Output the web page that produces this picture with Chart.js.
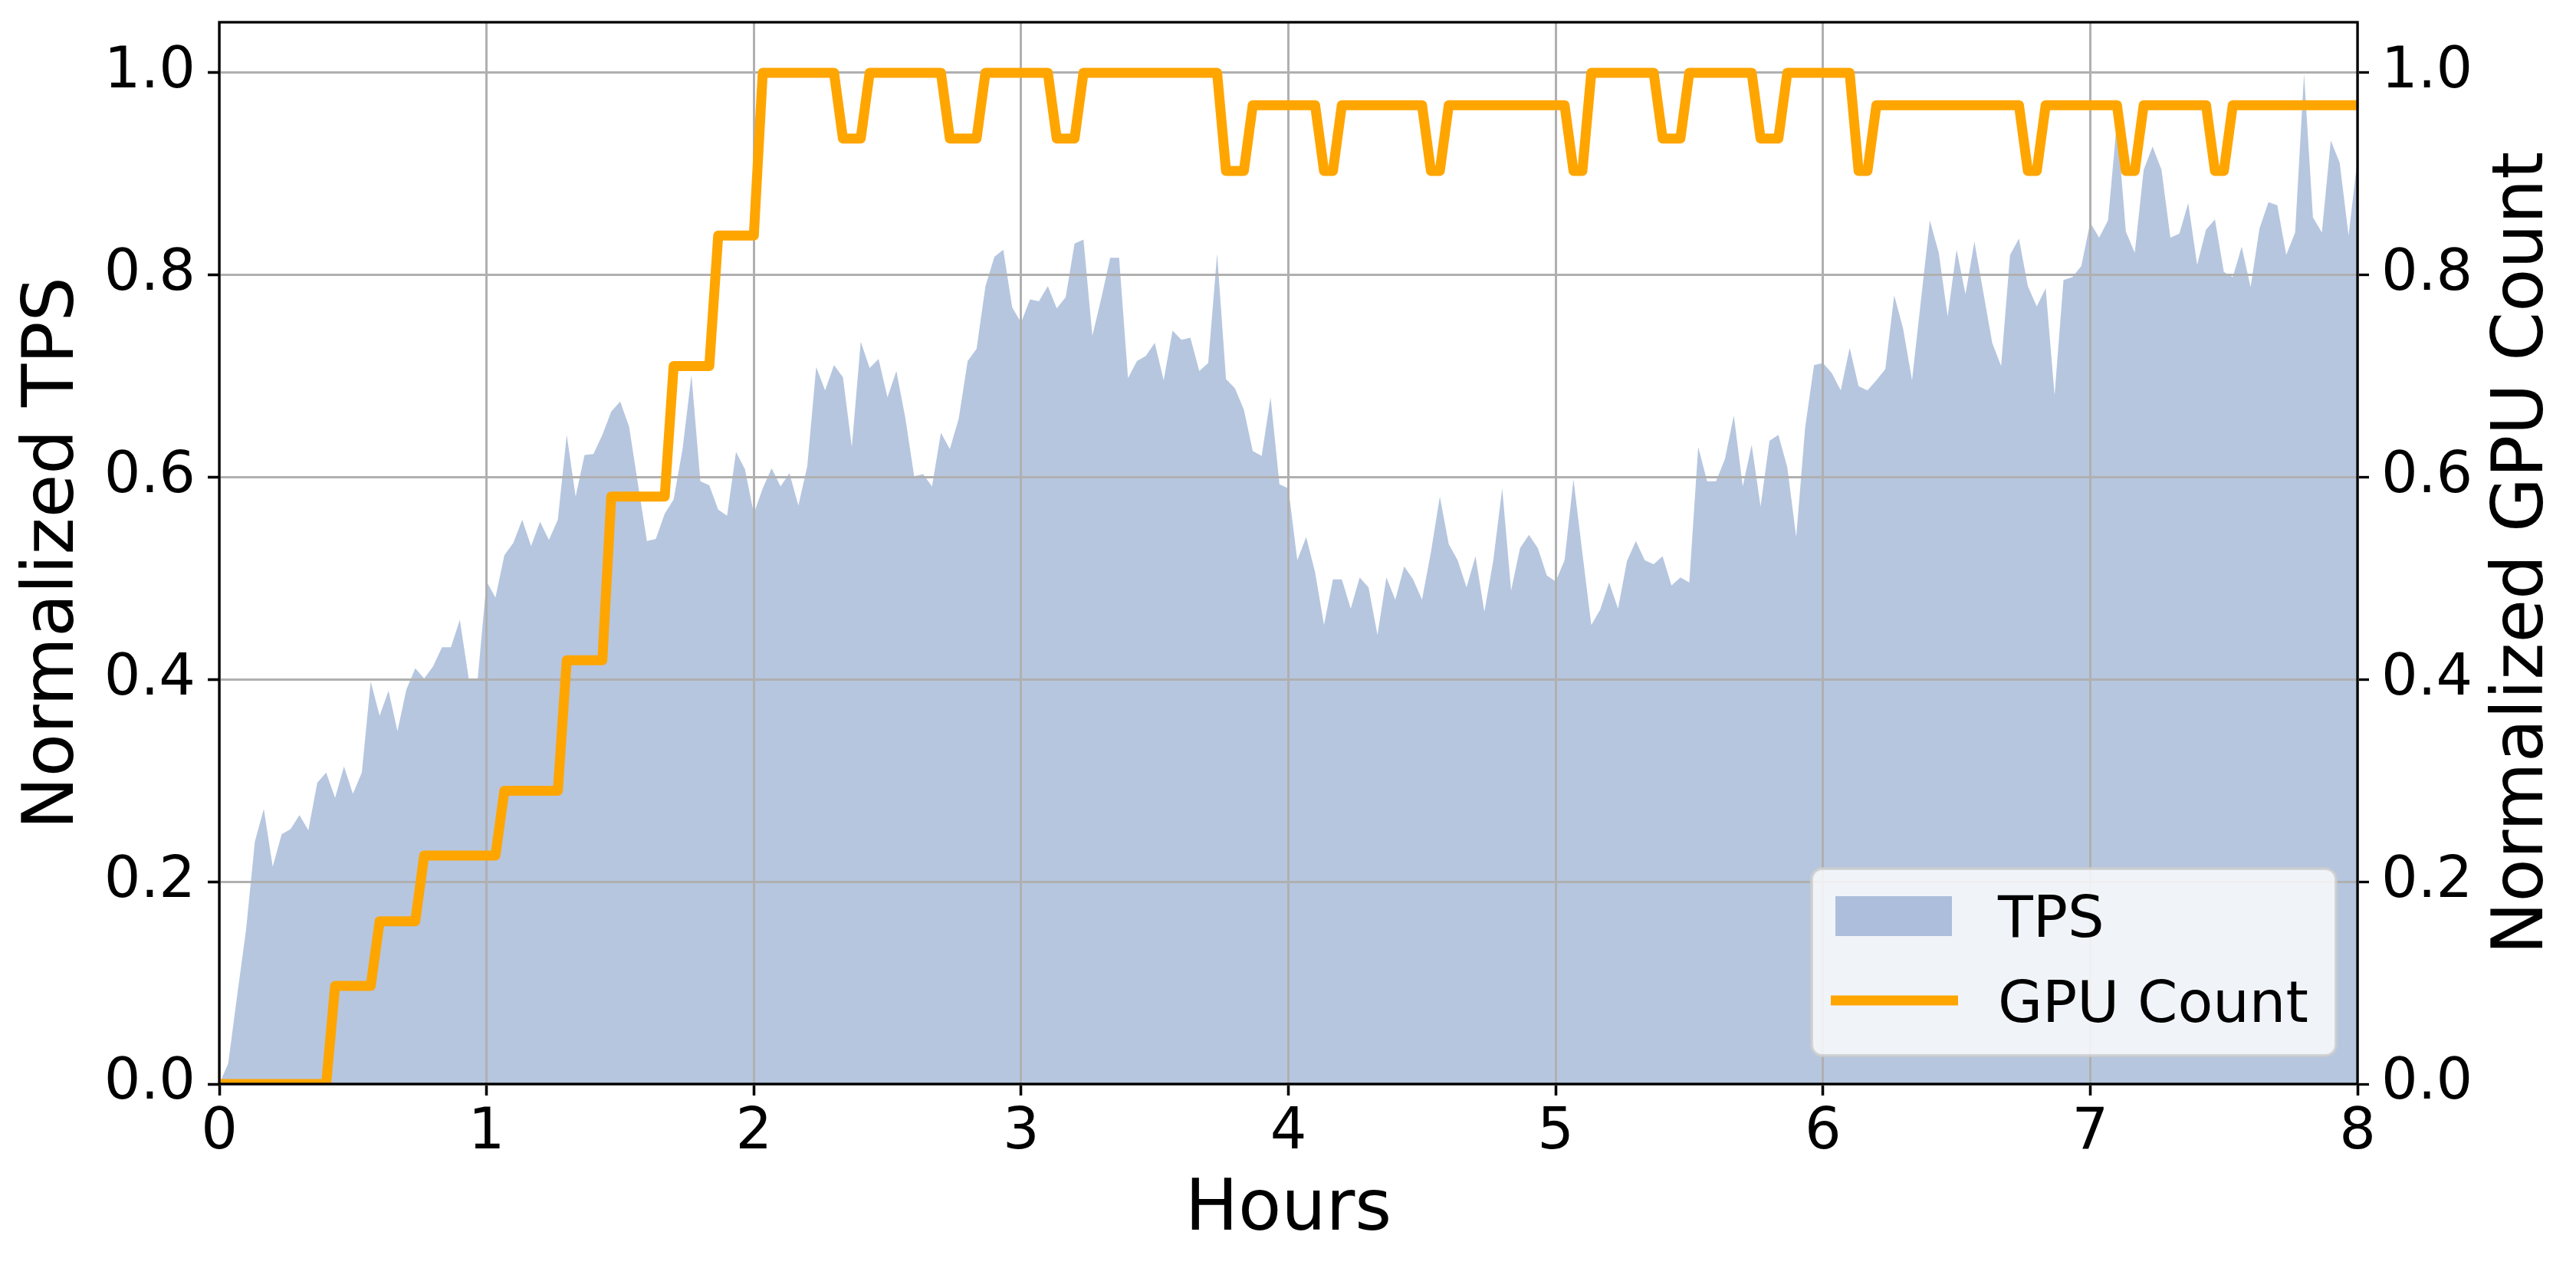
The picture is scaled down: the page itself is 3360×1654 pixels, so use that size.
<!DOCTYPE html>
<html>
<head>
<meta charset="utf-8">
<script src="https://cdn.jsdelivr.net/npm/chart.js@4"></script>
<style>
html, body { margin: 0; padding: 0; background: #ffffff; }
canvas { display: block; }
</style>
</head>
<body>
<canvas id="c" width="3360" height="1654"></canvas>
<script>
// ---- data (one sample every 2 minutes, 0..8 h) ----
const SAMPLES_PER_HOUR = 30;

const TPS = [
  0.000, 0.020, 0.087, 0.152, 0.240, 0.272, 0.215, 0.247, 0.252, 0.266,
  0.251, 0.298, 0.308, 0.283, 0.314, 0.287, 0.308, 0.398, 0.364, 0.389,
  0.349, 0.390, 0.411, 0.401, 0.413, 0.432, 0.432, 0.459, 0.401, 0.400,
  0.497, 0.481, 0.523, 0.535, 0.558, 0.532, 0.556, 0.538, 0.558, 0.642,
  0.581, 0.622, 0.623, 0.642, 0.665, 0.675, 0.650, 0.593, 0.537, 0.539,
  0.564, 0.578, 0.628, 0.701, 0.596, 0.592, 0.568, 0.562, 0.625, 0.608,
  0.564, 0.589, 0.609, 0.591, 0.604, 0.572, 0.611, 0.709, 0.686, 0.711,
  0.699, 0.630, 0.734, 0.708, 0.717, 0.679, 0.705, 0.659, 0.601, 0.603,
  0.591, 0.644, 0.628, 0.658, 0.715, 0.727, 0.789, 0.818, 0.825, 0.768,
  0.753, 0.776, 0.774, 0.789, 0.767, 0.778, 0.831, 0.835, 0.740, 0.777,
  0.817, 0.817, 0.698, 0.715, 0.720, 0.733, 0.696, 0.745, 0.736, 0.738,
  0.705, 0.713, 0.821, 0.697, 0.688, 0.667, 0.626, 0.621, 0.679, 0.593,
  0.589, 0.518, 0.541, 0.506, 0.454, 0.499, 0.499, 0.470, 0.501, 0.491,
  0.444, 0.501, 0.479, 0.512, 0.499, 0.479, 0.526, 0.581, 0.534, 0.518,
  0.491, 0.522, 0.467, 0.518, 0.589, 0.488, 0.530, 0.543, 0.530, 0.503,
  0.497, 0.518, 0.598, 0.525, 0.454, 0.469, 0.496, 0.470, 0.517, 0.537,
  0.518, 0.514, 0.522, 0.493, 0.501, 0.496, 0.630, 0.596, 0.596, 0.618,
  0.661, 0.591, 0.632, 0.571, 0.636, 0.642, 0.610, 0.541, 0.649, 0.711,
  0.713, 0.703, 0.686, 0.728, 0.690, 0.686, 0.696, 0.707, 0.780, 0.747,
  0.696, 0.775, 0.854, 0.822, 0.759, 0.825, 0.781, 0.833, 0.783, 0.733,
  0.710, 0.820, 0.836, 0.789, 0.769, 0.787, 0.681, 0.795, 0.798, 0.809,
  0.852, 0.837, 0.854, 0.952, 0.843, 0.822, 0.904, 0.927, 0.904, 0.837,
  0.841, 0.871, 0.810, 0.845, 0.855, 0.803, 0.798, 0.828, 0.788, 0.846,
  0.872, 0.869, 0.820, 0.842, 0.999, 0.857, 0.842, 0.933, 0.911, 0.839,
  0.915
];

const GPU = [
  0, 0, 0, 0, 0, 0, 0, 0, 0, 0,
  0, 0, 0, 0.097, 0.097, 0.097, 0.097, 0.097, 0.161, 0.161,
  0.161, 0.161, 0.161, 0.226, 0.226, 0.226, 0.226, 0.226, 0.226, 0.226,
  0.226, 0.226, 0.290, 0.290, 0.290, 0.290, 0.290, 0.290, 0.290, 0.419,
  0.419, 0.419, 0.419, 0.419, 0.581, 0.581, 0.581, 0.581, 0.581, 0.581,
  0.581, 0.710, 0.710, 0.710, 0.710, 0.710, 0.839, 0.839, 0.839, 0.839,
  0.839, 1, 1, 1, 1, 1, 1, 1, 1, 1,
  0.935, 0.935, 0.935, 1, 1, 1, 1, 1, 1, 1,
  1, 1, 0.935, 0.935, 0.935, 0.935, 1, 1, 1, 1,
  1, 1, 1, 1, 0.935, 0.935, 0.935, 1, 1, 1,
  1, 1, 1, 1, 1, 1, 1, 1, 1, 1,
  1, 1, 1, 0.903, 0.903, 0.903, 0.968, 0.968, 0.968, 0.968,
  0.968, 0.968, 0.968, 0.968, 0.903, 0.903, 0.968, 0.968, 0.968, 0.968,
  0.968, 0.968, 0.968, 0.968, 0.968, 0.968, 0.903, 0.903, 0.968, 0.968,
  0.968, 0.968, 0.968, 0.968, 0.968, 0.968, 0.968, 0.968, 0.968, 0.968,
  0.968, 0.968, 0.903, 0.903, 1, 1, 1, 1, 1, 1,
  1, 1, 0.935, 0.935, 0.935, 1, 1, 1, 1, 1,
  1, 1, 1, 0.935, 0.935, 0.935, 1, 1, 1, 1,
  1, 1, 1, 1, 0.903, 0.903, 0.968, 0.968, 0.968, 0.968,
  0.968, 0.968, 0.968, 0.968, 0.968, 0.968, 0.968, 0.968, 0.968, 0.968,
  0.968, 0.968, 0.968, 0.903, 0.903, 0.968, 0.968, 0.968, 0.968, 0.968,
  0.968, 0.968, 0.968, 0.968, 0.903, 0.903, 0.968, 0.968, 0.968, 0.968,
  0.968, 0.968, 0.968, 0.968, 0.903, 0.903, 0.968, 0.968, 0.968, 0.968,
  0.968, 0.968, 0.968, 0.968, 0.968, 0.968, 0.968, 0.968, 0.968, 0.968,
  0.968
];

const SERIES_NAMES = ['TPS', 'GPU Count'];
const X_TICKS = [0, 1, 2, 3, 4, 5, 6, 7, 8];
const X_TICK_LABELS = ['0', '1', '2', '3', '4', '5', '6', '7', '8'];
const Y_TICKS = [0, 0.2, 0.4, 0.6, 0.8, 1.0];
const Y_TICK_LABELS = ['0.0', '0.2', '0.4', '0.6', '0.8', '1.0'];
const X_TITLE = 'Hours';
const Y_TITLE = 'Normalized TPS';
const Y2_TITLE = 'Normalized GPU Count';

// ---- build library structures ----
const hours = TPS.map((_, i) => i / SAMPLES_PER_HOUR);
const tpsPoints = TPS.map((v, i) => ({ x: hours[i], y: v }));
const gpuPoints = GPU.map((v, i) => ({ x: hours[i], y: v }));

const FONT = 'DejaVu Sans';
const TPS_FILL = '#b6c6df';
const TPS_LEGEND = '#acbedb';
const ORANGE = '#ffa500';
const GRID = '#b0b0b0';

Chart.defaults.font.family = FONT;
Chart.defaults.color = '#000000';

// grid drawn above the filled area (like matplotlib), below the line
const gridOverFill = {
  id: 'gridOverFill',
  afterDatasetDraw(chart, args) {
    if (args.meta.label !== SERIES_NAMES[0]) return;
    chart.scales.x.drawGrid(chart.chartArea);
    chart.scales.y.drawGrid(chart.chartArea);
  }
};

// axes frame on top of the data
const frame = {
  id: 'frame',
  afterDatasetsDraw(chart) {
    const { ctx, chartArea: a } = chart;
    ctx.save();
    ctx.strokeStyle = '#000000';
    ctx.lineWidth = 3.3;
    ctx.strokeRect(a.left, a.top, a.right - a.left, a.bottom - a.top);
    ctx.restore();
  }
};

// right axis title (reads bottom-to-top) and legend box inside the plot
const extras = {
  id: 'extras',
  afterDraw(chart) {
    const { ctx, chartArea: a } = chart;
    ctx.save();
    ctx.translate(a.right + 241, (a.top + a.bottom) / 2);
    ctx.rotate(-Math.PI / 2);
    ctx.font = '92px "' + FONT + '"';
    ctx.fillStyle = '#000000';
    ctx.textAlign = 'center';
    ctx.textBaseline = 'alphabetic';
    ctx.fillText(Y2_TITLE, 0, 0);
    ctx.restore();

    const bx = a.right - 712, by = a.bottom - 281, bw = 684, bh = 244;
    ctx.save();
    ctx.beginPath();
    ctx.roundRect(bx, by, bw, bh, 14);
    ctx.fillStyle = 'rgba(255,255,255,0.8)';
    ctx.fill();
    ctx.strokeStyle = 'rgba(204,204,204,0.8)';
    ctx.lineWidth = 4;
    ctx.stroke();

    ctx.fillStyle = TPS_LEGEND;
    ctx.fillRect(bx + 31, by + 36, 152, 52);

    ctx.beginPath();
    ctx.strokeStyle = ORANGE;
    ctx.lineWidth = 13;
    ctx.lineCap = 'butt';
    ctx.moveTo(bx + 25, by + 172);
    ctx.lineTo(bx + 191, by + 172);
    ctx.stroke();

    ctx.fillStyle = '#000000';
    ctx.font = '75px "' + FONT + '"';
    ctx.textAlign = 'left';
    ctx.textBaseline = 'alphabetic';
    ctx.fillText(SERIES_NAMES[0], bx + 243, by + 89);
    ctx.fillText(SERIES_NAMES[1], bx + 243, by + 200);
    ctx.restore();
  }
};

const tickGrid = {
  color: GRID,
  lineWidth: 3,
  tickColor: '#000000',
  tickLength: 15,
  tickWidth: 3.3
};

const noEdgePadding = s => {
  s.paddingTop = 0;
  s.paddingBottom = 0;
  s.paddingLeft = 0;
  s.paddingRight = 0;
};

new Chart(document.getElementById('c'), {
  type: 'line',
  data: {
    datasets: [
      {
        label: SERIES_NAMES[0],
        data: tpsPoints,
        yAxisID: 'y',
        fill: 'origin',
        backgroundColor: TPS_FILL,
        borderColor: 'rgba(0,0,0,0)',
        borderWidth: 0,
        pointRadius: 0,
        tension: 0,
        order: 2,
        clip: 0
      },
      {
        label: SERIES_NAMES[1],
        data: gpuPoints,
        yAxisID: 'y2',
        fill: false,
        borderColor: ORANGE,
        borderWidth: 13,
        borderJoinStyle: 'round',
        borderCapStyle: 'butt',
        pointRadius: 0,
        tension: 0,
        order: 1,
        clip: 0
      }
    ]
  },
  options: {
    responsive: false,
    animation: false,
    events: [],
    layout: { padding: { top: 29, left: 0, right: 0, bottom: 0 } },
    plugins: {
      legend: { display: false },
      tooltip: { enabled: false }
    },
    scales: {
      x: {
        type: 'linear',
        min: 0,
        max: 8,
        afterBuildTicks: s => { s.ticks = X_TICKS.map(v => ({ value: v })); },
        afterFit: s => { s.height = 240; noEdgePadding(s); },
        ticks: {
          font: { size: 75 },
          color: '#000000',
          padding: 5,
          maxRotation: 0,
          autoSkip: false,
          callback: (v, i) => X_TICK_LABELS[i]
        },
        grid: tickGrid,
        border: { display: false },
        title: {
          display: true,
          text: X_TITLE,
          color: '#000000',
          font: { size: 92, lineHeight: 1.2 },
          padding: { top: 0, bottom: 19 }
        }
      },
      y: {
        type: 'linear',
        position: 'left',
        min: 0,
        max: 1.05,
        afterBuildTicks: s => { s.ticks = Y_TICKS.map(v => ({ value: v })); },
        afterFit: s => { s.width = 286; noEdgePadding(s); },
        ticks: {
          font: { size: 75 },
          color: '#000000',
          padding: 16,
          callback: (v, i) => Y_TICK_LABELS[i]
        },
        grid: tickGrid,
        border: { display: false },
        title: {
          display: true,
          text: Y_TITLE,
          color: '#000000',
          font: { size: 92, lineHeight: 1.2 },
          padding: { top: 16, bottom: 0 }
        }
      },
      y2: {
        type: 'linear',
        position: 'right',
        min: 0,
        max: 1.05,
        afterBuildTicks: s => { s.ticks = Y_TICKS.map(v => ({ value: v })); },
        afterFit: s => { s.width = 285; noEdgePadding(s); },
        ticks: {
          font: { size: 75 },
          color: '#000000',
          padding: 16,
          callback: (v, i) => Y_TICK_LABELS[i]
        },
        grid: Object.assign({}, tickGrid, { drawOnChartArea: false }),
        border: { display: false },
        title: { display: false }
      }
    }
  },
  plugins: [gridOverFill, frame, extras]
});
</script>
</body>
</html>
